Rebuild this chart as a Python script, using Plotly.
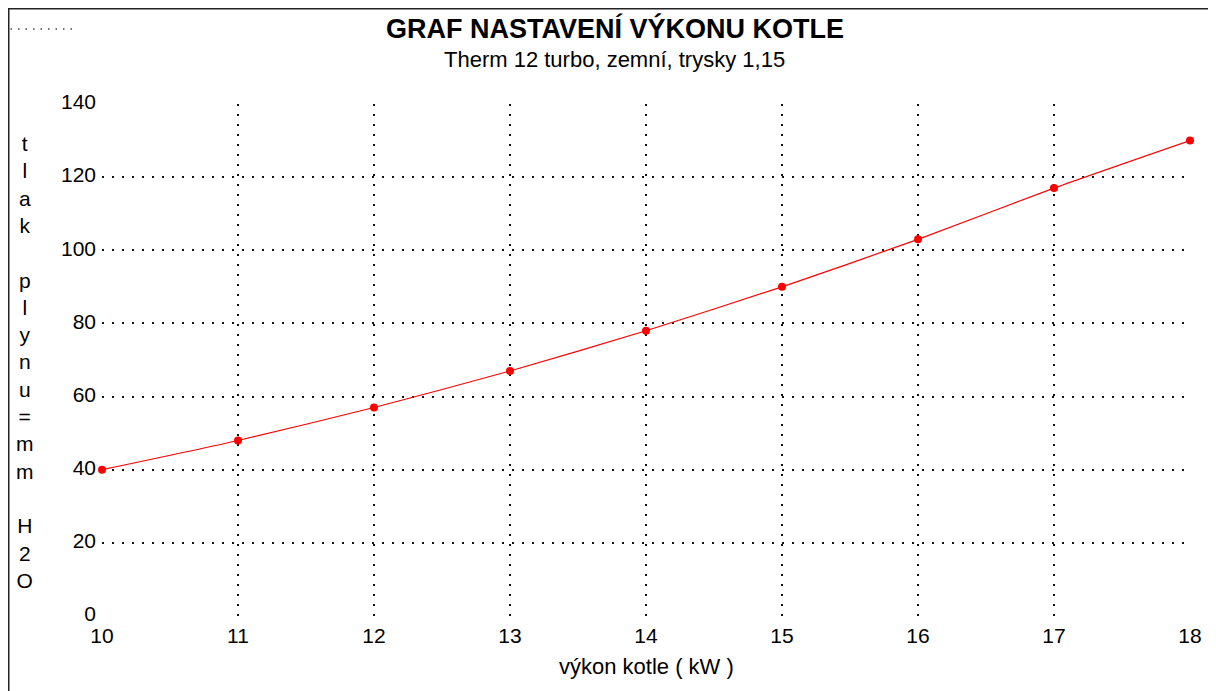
import plotly.graph_objects as go

# Data
vykon_kw = [10, 11, 12, 13, 14, 15, 16, 17, 18]
tlak_mm = [40, 48, 57, 67, 78, 90, 103, 117, 130]

x_ticks = [10, 11, 12, 13, 14, 15, 16, 17, 18]
y_ticks = [0, 20, 40, 60, 80, 100, 120, 140]
x_grid = [11, 12, 13, 14, 15, 16, 17, 18]
y_grid = [20, 40, 60, 80, 100, 120, 140]

title_text = "GRAF NASTAVENÍ VÝKONU KOTLE"
subtitle_text = "Therm 12 turbo, zemní, trysky 1,15"
x_title = "výkon kotle ( kW )"
y_title_chars = list("tlak plynu=mm H2O")

FONT = "Liberation Sans, Arial, sans-serif"

fig = go.Figure()
fig.add_trace(go.Scatter(
    x=vykon_kw, y=tlak_mm, mode="lines+markers",
    line=dict(color="#ff0000", width=1.2, shape="spline", smoothing=0.6),
    marker=dict(color="#ff0000", size=8),
    cliponaxis=False, showlegend=False,
))
# empty trace that carries the grid axes
fig.add_trace(go.Scatter(x=[], y=[], xaxis="x2", yaxis="y2", showlegend=False,
                         hoverinfo="skip"))

tickfont = dict(family=FONT, size=21, color="black")
gridstyle = dict(showgrid=True, gridcolor="#111111", gridwidth=2, griddash="2px,8px",
                 zeroline=False, showline=False, showticklabels=False, ticks="")

fig.update_layout(
    xaxis=dict(range=[10, 18], tickvals=x_ticks, showgrid=False, zeroline=False,
               showline=False, ticks="", tickfont=tickfont, ticklabelstandoff=5),
    yaxis=dict(range=[0, 140], tickvals=y_ticks, showgrid=False, zeroline=False,
               showline=False, ticks="", tickfont=tickfont, ticklabelstandoff=5,
               ticklabelshift=-2),
    xaxis2=dict(range=[10, 18], tickvals=x_grid, overlaying="x", anchor="y2",
                **gridstyle),
    yaxis2=dict(range=[0, 140], tickvals=y_grid, overlaying="y", anchor="x2",
                **gridstyle),
)

y_lbl = "<br>".join(c if c != " " else "\u00a0" for c in y_title_chars)

fig.update_layout(
    width=1216, height=691,
    margin=dict(l=94, r=34, t=96, b=83),
    paper_bgcolor="white", plot_bgcolor="white",
    font=dict(family=FONT, color="black"),
    annotations=[
        dict(text="<b>" + title_text + "</b>", xref="paper", yref="paper",
             x=0.4715, y=1.147, xanchor="center", yanchor="middle",
             showarrow=False, font=dict(family=FONT, size=27, color="black")),
        dict(text=subtitle_text, xref="paper", yref="paper",
             x=0.4715, y=1.087, xanchor="center", yanchor="middle",
             showarrow=False, font=dict(family=FONT, size=22, color="black")),
        dict(text=x_title, xref="paper", yref="paper",
             x=0.5, y=-0.0995, xanchor="center", yanchor="middle",
             showarrow=False, font=dict(family=FONT, size=22, color="black")),
        dict(text=y_lbl, xref="paper", yref="paper",
             x=-0.071, y=0.497, xanchor="center", yanchor="middle",
             showarrow=False, font=dict(family=FONT, size=21, color="black")),
    ],
    shapes=[
        dict(type="rect", xref="paper", yref="paper",
             x0=(8.75 - 102) / 1088, x1=(1212 - 102) / 1088,
             y0=(616 - 720) / 512, y1=(616 - 8.75) / 512,
             line=dict(color="#222222", width=1.5)),
        dict(type="line", xref="paper", yref="paper",
             x0=(3 - 102) / 1088, x1=(72 - 102) / 1088,
             y0=(616 - 29) / 512, y1=(616 - 29) / 512,
             line=dict(color="#444444", width=1.5, dash="1.5px,6px")),
    ],
)

fig.write_html("out.html")
